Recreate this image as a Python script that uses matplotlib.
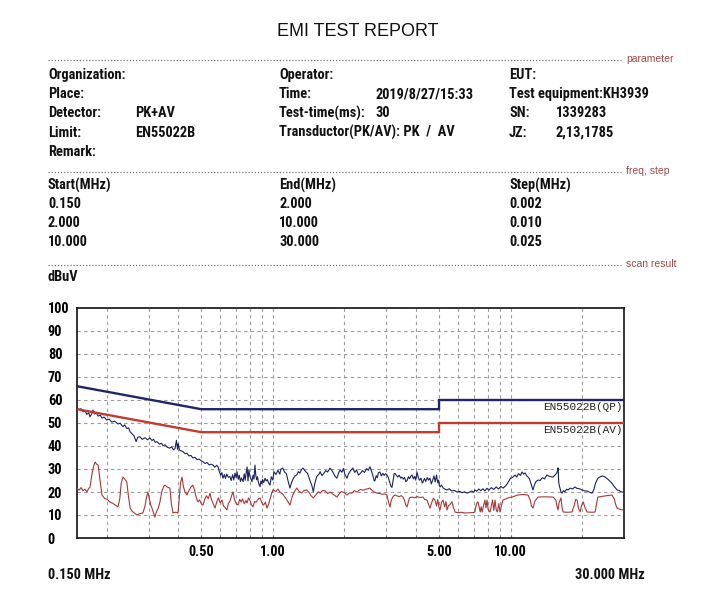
import matplotlib
matplotlib.use('Agg')
from matplotlib import pyplot as plt
from matplotlib import font_manager
from matplotlib.ticker import FixedLocator, NullFormatter

# header fields
row_left = ['Organization:', 'Place:', 'Detector:', 'Limit:', 'Remark:']
row_left_val = ['', '', 'PK+AV', 'EN55022B', '']
row_mid = ['Operator:', 'Time:', 'Test-time(ms):', 'Transductor(PK/AV): PK  /  AV', '']
row_mid_val = ['', '2019/8/27/15:33', '30', '', '']
row_right = ['EUT:', 'Test equipment:KH3939', 'SN:', 'JZ:', '']
row_right_val = ['', '', '1339283', '2,13,1785', '']

freq_start = ['0.150', '2.000', '10.000']
freq_end = ['2.000', '10.000', '30.000']
freq_step = ['0.002', '0.010', '0.025']

# limit lines (MHz, dBuV)
qp_f = [0.15, 0.5, 5.0, 5.0, 30.0]
qp_db = [66, 56, 56, 60, 60]
av_f = [0.15, 0.5, 5.0, 5.0, 30.0]
av_db = [56, 46, 46, 50, 50]

# peak trace
pk_f = [0.150, 0.153, 0.156, 0.159, 0.162, 0.165, 0.168, 0.170, 0.173, 0.175,
        0.178, 0.181, 0.184, 0.188, 0.191, 0.195, 0.200, 0.205, 0.210, 0.216,
        0.223, 0.228, 0.234, 0.238, 0.243, 0.247, 0.251, 0.255, 0.260, 0.266,
        0.270, 0.276, 0.282, 0.290, 0.297, 0.304, 0.310, 0.315, 0.320, 0.326,
        0.333, 0.340, 0.345, 0.352, 0.360, 0.369, 0.375, 0.382, 0.388, 0.393,
        0.397, 0.400, 0.405, 0.412, 0.419, 0.428, 0.435, 0.443, 0.452, 0.461,
        0.470, 0.480, 0.490, 0.500, 0.508, 0.518, 0.528, 0.540, 0.550, 0.560,
        0.570, 0.580, 0.588, 0.595, 0.603, 0.610, 0.617, 0.625, 0.632, 0.640,
        0.650, 0.660, 0.668, 0.677, 0.685, 0.693, 0.700, 0.707, 0.715, 0.722,
        0.730, 0.738, 0.749, 0.758, 0.765, 0.772, 0.779, 0.786, 0.793, 0.800,
        0.808, 0.817, 0.825, 0.833, 0.841, 0.848, 0.855, 0.862, 0.870, 0.877,
        0.883, 0.890, 0.898, 0.905, 0.915, 0.927, 0.937, 0.948, 0.960, 0.973,
        0.985, 1.00, 1.01, 1.03, 1.05, 1.07, 1.08, 1.10, 1.12, 1.14,
        1.16, 1.18, 1.20, 1.22, 1.24, 1.26, 1.28, 1.30, 1.32, 1.34,
        1.37, 1.40, 1.43, 1.46, 1.48, 1.50, 1.53, 1.56, 1.58, 1.61,
        1.64, 1.67, 1.70, 1.74, 1.77, 1.80, 1.83, 1.86, 1.89, 1.92,
        1.95, 1.98, 2.01, 2.05, 2.08, 2.11, 2.14, 2.17, 2.21, 2.25,
        2.29, 2.33, 2.38, 2.43, 2.48, 2.52, 2.56, 2.60, 2.64, 2.67,
        2.69, 2.72, 2.75, 2.78, 2.82, 2.86, 2.90, 2.94, 2.98, 3.02,
        3.06, 3.10, 3.14, 3.17, 3.21, 3.24, 3.27, 3.31, 3.35, 3.40,
        3.45, 3.49, 3.54, 3.58, 3.63, 3.67, 3.72, 3.76, 3.81, 3.85,
        3.90, 3.95, 3.99, 4.04, 4.09, 4.14, 4.20, 4.25, 4.28, 4.34,
        4.40, 4.46, 4.52, 4.58, 4.64, 4.70, 4.76, 4.82, 4.88, 4.94,
        4.98, 5.02, 5.05, 5.12, 5.20, 5.30, 5.40, 5.52, 5.65, 5.80,
        5.95, 6.10, 6.25, 6.40, 6.56, 6.70, 6.85, 7.00, 7.08, 7.20,
        7.35, 7.50, 7.65, 7.80, 7.95, 8.10, 8.30, 8.50, 8.70, 8.90,
        9.10, 9.30, 9.50, 9.65, 9.80, 10.0, 10.2, 10.44, 10.6, 10.8,
        11.0, 11.17, 11.35, 11.5, 11.7, 11.84, 12.0, 12.15, 12.3, 12.42,
        12.6, 12.8, 13.05, 13.3, 13.6, 13.9, 14.2, 14.5, 14.8, 15.09,
        15.4, 15.6, 15.75, 15.84, 15.95, 16.1, 16.3, 16.45, 16.7, 16.9,
        17.2, 17.46, 17.8, 18.2, 18.68, 19.0, 19.5, 19.98, 20.5, 21.0,
        21.5, 22.0, 22.4, 22.8, 23.3, 23.8, 24.4, 24.96, 25.5, 26.0,
        26.7, 27.3, 28.05, 28.6, 29.0, 29.4, 30.0]
pk_db = [56.5, 55.8, 56.2, 54.9, 55.3, 53.8, 54.4, 52.7, 54.0, 55.6,
         53.9, 54.3, 53.0, 53.4, 52.1, 52.6, 51.3, 51.7, 50.4, 50.8,
         49.6, 49.9, 48.4, 49.2, 47.6, 47.9, 46.2, 45.4, 44.6, 41.9,
         43.8, 44.0, 42.9, 43.6, 42.7, 43.5, 42.4, 42.9, 41.6, 41.9,
         40.8, 41.2, 40.1, 40.5, 39.4, 39.1, 39.6, 38.3, 39.0, 42.5,
         38.6, 41.0, 38.2, 37.9, 37.5, 36.6, 36.9, 35.7, 35.9, 34.8,
         35.1, 34.1, 34.3, 33.5, 33.2, 32.4, 32.8, 31.8, 32.1, 31.7,
         30.8, 31.6, 31.0, 29.0, 27.3, 28.4, 26.0, 27.6, 25.9, 27.8,
         26.4, 26.7, 25.0, 27.5, 25.2, 28.2, 26.3, 28.8, 25.5, 27.3,
         24.6, 26.1, 24.5, 27.9, 25.1, 28.3, 30.9, 24.8, 29.7, 27.0,
         25.8, 24.5, 27.3, 25.6, 31.7, 27.1, 25.3, 26.6, 24.0, 23.1,
         22.3, 24.7, 23.6, 25.4, 24.1, 26.0, 24.8, 25.4, 23.9, 23.0,
         26.6, 25.2, 28.8, 27.6, 29.4, 27.8, 29.9, 30.4, 28.7, 27.9,
         24.6, 21.7, 24.3, 25.9, 27.0, 27.4, 28.9, 28.2, 29.8, 30.4,
         29.0, 28.1, 25.2, 22.7, 20.1, 23.5, 26.8, 27.6, 28.8, 27.1,
         28.2, 29.3, 28.7, 30.4, 29.4, 28.1, 26.7, 26.0, 28.3, 29.5,
         28.6, 30.2, 27.6, 26.0, 27.8, 28.9, 29.7, 30.4, 28.5, 29.6,
         27.4, 28.0, 29.3, 28.5, 30.2, 29.4, 31.0, 29.1, 26.8, 24.8,
         25.0, 27.1, 26.2, 28.4, 28.7, 27.0, 28.1, 27.2, 28.0, 27.4,
         26.3, 24.2, 22.5, 22.0, 25.6, 28.0, 28.0, 27.2, 26.5, 27.3,
         26.0, 26.5, 25.6, 26.3, 24.5, 25.0, 26.7, 25.8, 26.9, 27.4,
         25.7, 26.8, 25.2, 28.7, 26.4, 25.1, 26.0, 23.9, 24.3, 25.9,
         24.6, 26.3, 25.2, 26.0, 23.5, 25.1, 27.0, 24.4, 27.4, 24.0,
         25.2, 22.8, 22.2, 23.0, 21.8, 21.2, 20.9, 21.4, 20.5, 20.7,
         20.0, 20.3, 19.7, 20.1, 19.5, 19.9, 20.4, 19.9, 20.9, 20.3,
         21.3, 20.6, 21.4, 20.5, 21.6, 20.8, 21.9, 21.1, 22.2, 21.3,
         22.4, 21.7, 22.5, 23.4, 24.5, 26.0, 26.4, 27.4, 26.5, 28.0,
         27.2, 28.7, 27.8, 28.3, 27.0, 26.5, 25.8, 24.0, 22.2, 20.9,
         23.1, 24.6, 25.2, 25.0, 26.2, 25.7, 27.4, 26.9, 26.6, 26.5,
         27.5, 28.1, 29.0, 30.5, 24.0, 22.0, 20.0, 19.5, 20.6, 20.1,
         21.2, 20.9, 21.7, 21.3, 22.2, 21.6, 21.4, 20.9, 20.5, 20.4,
         19.9, 19.5, 21.0, 24.0, 26.0, 26.6, 27.0, 26.5, 25.8, 25.0,
         23.8, 22.4, 20.9, 20.7, 20.2, 20.0, 19.8]

# average trace
avg_f = [0.150, 0.153, 0.156, 0.159, 0.162, 0.165, 0.168, 0.170, 0.172, 0.174,
         0.177, 0.179, 0.181, 0.184, 0.187, 0.191, 0.196, 0.201, 0.206, 0.212,
         0.218, 0.223, 0.227, 0.230, 0.234, 0.238, 0.243, 0.247, 0.251, 0.256,
         0.262, 0.268, 0.275, 0.284, 0.290, 0.294, 0.298, 0.302, 0.306, 0.310,
         0.315, 0.319, 0.324, 0.330, 0.335, 0.341, 0.347, 0.352, 0.360, 0.369,
         0.374, 0.380, 0.390, 0.399, 0.404, 0.409, 0.415, 0.420, 0.426, 0.435,
         0.443, 0.452, 0.461, 0.468, 0.476, 0.484, 0.492, 0.500, 0.508, 0.517,
         0.526, 0.535, 0.544, 0.552, 0.562, 0.571, 0.580, 0.590, 0.600, 0.611,
         0.620, 0.630, 0.641, 0.650, 0.660, 0.670, 0.680, 0.690, 0.700, 0.714,
         0.725, 0.735, 0.745, 0.758, 0.770, 0.778, 0.790, 0.800, 0.812, 0.825,
         0.838, 0.850, 0.865, 0.883, 0.900, 0.915, 0.930, 0.945, 0.960, 0.975,
         0.990, 1.00, 1.03, 1.05, 1.07, 1.10, 1.12, 1.15, 1.18, 1.21,
         1.24, 1.26, 1.29, 1.32, 1.35, 1.39, 1.42, 1.45, 1.48, 1.52,
         1.55, 1.58, 1.62, 1.66, 1.70, 1.74, 1.80, 1.86, 1.90, 1.94,
         1.97, 2.01, 2.05, 2.10, 2.15, 2.20, 2.26, 2.33, 2.40, 2.48,
         2.56, 2.62, 2.68, 2.74, 2.82, 2.90, 2.96, 3.02, 3.06, 3.11,
         3.15, 3.20, 3.27, 3.33, 3.40, 3.47, 3.53, 3.58, 3.63, 3.67,
         3.72, 3.76, 3.85, 3.95, 4.05, 4.15, 4.28, 4.35, 4.45, 4.52,
         4.58, 4.65, 4.73, 4.81, 4.88, 4.94, 5.00, 5.05, 5.12, 5.20,
         5.28, 5.35, 5.40, 5.48, 5.55, 5.67, 5.75, 5.84, 6.0, 6.2,
         6.4, 6.56, 6.8, 7.0, 7.08, 7.15, 7.22, 7.29, 7.38, 7.45,
         7.52, 7.59, 7.70, 7.80, 7.88, 7.96, 8.05, 8.19, 8.30, 8.40,
         8.50, 8.60, 8.70, 8.80, 8.92, 9.03, 9.15, 9.29, 9.50, 9.75,
         10.2, 10.74, 11.3, 11.84, 12.1, 12.25, 12.42, 12.65, 13.05, 14.0,
         15.09, 15.5, 15.7, 15.84, 16.0, 16.3, 16.45, 16.63, 17.3, 18.13,
         18.5, 18.8, 19.04, 19.3, 19.6, 19.9, 20.2, 20.6, 20.97, 22.0,
         22.7, 23.0, 23.3, 25.0, 26.7, 27.3, 27.7, 28.05, 29.0, 29.7,
         30.0]
avg_db = [21.7, 20.8, 21.9, 20.6, 21.2, 20.0, 21.5, 22.0, 25.5, 28.7,
          31.9, 33.0, 32.2, 31.7, 26.0, 18.7, 17.2, 16.8, 15.7, 15.1,
          14.2, 13.5, 17.0, 23.5, 26.5, 25.7, 24.3, 18.0, 13.0, 11.6,
          10.8, 10.0, 10.6, 10.9, 14.0, 17.6, 20.0, 17.3, 14.5, 13.0,
          10.9, 9.1, 11.4, 13.2, 15.7, 20.1, 22.4, 23.0, 22.1, 21.7,
          15.0, 10.9, 11.2, 10.9, 17.5, 24.1, 26.5, 22.6, 20.3, 18.7,
          20.6, 22.1, 23.0, 21.0, 17.6, 15.7, 16.6, 14.9, 14.3, 16.8,
          18.4, 17.1, 19.5, 16.7, 14.8, 13.0, 15.5, 17.5, 15.3, 16.5,
          14.0, 13.1, 12.2, 15.1, 16.0, 18.3, 20.0, 16.6, 15.1, 14.3,
          16.8, 15.6, 17.0, 14.9, 16.3, 15.2, 17.4, 16.5, 14.6, 13.5,
          15.9, 15.5, 16.8, 17.4, 15.2, 14.3, 15.6, 13.0, 14.8, 17.2,
          19.6, 20.9, 20.2, 21.3, 20.0, 19.1, 18.0, 16.2, 14.3, 18.5,
          20.6, 21.7, 20.3, 19.5, 20.6, 20.9, 19.8, 18.3, 17.4, 18.9,
          20.1, 19.5, 20.7, 20.5, 19.3, 20.0, 18.9, 17.8, 19.1, 20.2,
          20.0, 19.4, 18.7, 19.6, 19.5, 20.6, 20.0, 21.1, 20.8, 21.3,
          21.7, 20.6, 19.9, 19.5, 19.3, 19.0, 19.2, 18.7, 16.0, 13.5,
          16.4, 18.0, 18.7, 18.3, 18.0, 18.4, 17.8, 16.2, 14.1, 13.5,
          16.0, 17.5, 17.8, 17.5, 18.0, 17.6, 17.8, 16.8, 16.5, 14.6,
          13.0, 15.1, 17.3, 16.5, 14.0, 16.7, 13.2, 12.2, 15.4, 16.5,
          13.6, 15.8, 12.2, 14.0, 14.5, 15.7, 13.3, 11.3, 11.0, 11.2,
          10.9, 10.9, 11.0, 11.1, 11.3, 13.8, 15.3, 15.7, 13.4, 11.3,
          13.6, 11.3, 14.2, 16.5, 13.1, 16.5, 12.4, 11.3, 13.9, 16.5,
          12.0, 16.5, 12.3, 11.3, 15.0, 11.3, 14.1, 16.5, 16.9, 17.4,
          17.9, 18.7, 18.9, 18.7, 16.5, 13.8, 13.0, 16.0, 17.8, 17.9,
          17.8, 16.5, 13.5, 12.2, 15.5, 17.4, 13.5, 11.3, 11.2, 11.3,
          14.0, 16.8, 16.5, 13.0, 11.3, 14.2, 15.7, 13.0, 11.3, 11.2,
          11.3, 15.0, 17.8, 18.3, 18.7, 17.0, 14.5, 13.0, 12.4, 12.2,
          12.2]

y_ticks = [0, 10, 20, 30, 40, 50, 60, 70, 80, 90, 100]
x_major = [0.5, 1.0, 5.0, 10.0]
x_major_labels = ['0.50', '1.00', '5.00', '10.00']
x_grid = [0.2, 0.3, 0.4, 0.5, 0.6, 0.7, 0.8, 0.9, 1, 2, 3, 4, 5, 6, 7, 8, 9, 10, 20]

# the report uses a narrow font; pick one if it is installed
installed = font_manager.fontManager.ttflist
names = set(f.name for f in installed)
stretch = 'normal'
size = 10.4
if 'Liberation Sans Narrow' in names:
    font = ['Liberation Sans Narrow', 'DejaVu Sans']
elif 'Roboto Condensed' in names:
    font = ['Roboto Condensed', 'DejaVu Sans']
elif any(f.name == 'DejaVu Sans' and f.stretch == 'condensed' for f in installed):
    font = ['DejaVu Sans']
    stretch = 'condensed'
    size = 9.4
else:
    font = ['Lato', 'DejaVu Sans']
    size = 9.4

W, H = 720, 590
txt_kw = dict(family=font, fontsize=size, fontweight='bold', fontstretch=stretch,
              color='#111111', va='center')

fig = plt.figure(figsize=(7.2, 5.9), dpi=100)


def fx(px):
    return px / W


def fy(py):
    return 1 - py / H


def sep_line(py, label):
    fig.add_artist(plt.Line2D([fx(48), fx(621)], [fy(py), fy(py)], transform=fig.transFigure,
                              color='#777777', lw=0.9, ls=(0, (1, 1.5))))
    fig.text(fx(626), fy(py - 1), label, family=['Liberation Sans', 'DejaVu Sans'],
             fontsize=7.5, color='#a04848', va='center', ha='left')


fig.text(fx(358), fy(31), 'EMI TEST REPORT', family=['Liberation Sans', 'DejaVu Sans'],
         fontsize=13, ha='center', va='center', color='#111111')

sep_line(60, 'parameter')
for i in range(5):
    py = 75 + i * 19.2
    fig.text(fx(48), fy(py), row_left[i], **txt_kw)
    fig.text(fx(135), fy(py), row_left_val[i], **txt_kw)
    fig.text(fx(279), fy(py), row_mid[i], **txt_kw)
    fig.text(fx(375), fy(py), row_mid_val[i], **txt_kw)
    fig.text(fx(509), fy(py), row_right[i], **txt_kw)
    fig.text(fx(556), fy(py), row_right_val[i], **txt_kw)

sep_line(172, 'freq, step')
fig.text(fx(48), fy(185), 'Start(MHz)', **txt_kw)
fig.text(fx(279), fy(185), 'End(MHz)', **txt_kw)
fig.text(fx(509), fy(185), 'Step(MHz)', **txt_kw)
for i in range(3):
    py = 204 + i * 19.2
    fig.text(fx(48), fy(py), freq_start[i], **txt_kw)
    fig.text(fx(279), fy(py), freq_end[i], **txt_kw)
    fig.text(fx(509), fy(py), freq_step[i], **txt_kw)

sep_line(265, 'scan result')
fig.text(fx(48), fy(277), 'dBuV', **txt_kw)

ax = fig.add_axes([fx(77), fy(538), fx(624 - 77), (538 - 308) / H])
ax.set_xscale('log')
ax.set_xlim(0.15, 30)
ax.set_ylim(0, 100)

for v in y_ticks[1:-1]:
    ax.axhline(v, color='#9a9a9a', lw=0.8, ls=(0, (3, 3)), zorder=1)
for f in x_grid:
    ax.axvline(f, color='#9a9a9a', lw=0.8, ls=(0, (3, 3)), zorder=1)

ax.plot(avg_f, avg_db, color='#a83838', lw=0.8, zorder=3)
ax.plot(pk_f, pk_db, color='#1c2260', lw=0.8, zorder=3)
ax.plot(av_f, av_db, color='#c23b2e', lw=1.7, solid_joinstyle='miter', zorder=4)
ax.plot(qp_f, qp_db, color='#1f2568', lw=1.7, solid_joinstyle='miter', zorder=4)

ax.text(29.5, 57.0, 'EN55022B(QP)', family=['Liberation Mono', 'DejaVu Sans Mono'],
        fontsize=8, ha='right', va='center', color='#222222', zorder=5)
ax.text(29.5, 47.0, 'EN55022B(AV)', family=['Liberation Mono', 'DejaVu Sans Mono'],
        fontsize=8, ha='right', va='center', color='#222222', zorder=5)

ax.set_yticks(y_ticks)
ax.set_yticklabels([str(v) for v in y_ticks])
for lab in ax.get_yticklabels():
    lab.set_family(font)
    lab.set_fontstretch(stretch)
    lab.set_fontweight('bold')
    lab.set_fontsize(size)
    lab.set_ha('left')
ax.tick_params(axis='y', length=0, pad=21)

ax.xaxis.set_major_locator(FixedLocator(x_major))
ax.xaxis.set_minor_locator(FixedLocator(x_grid))
ax.xaxis.set_minor_formatter(NullFormatter())
ax.set_xticklabels(x_major_labels)
for lab in ax.get_xticklabels():
    lab.set_family(font)
    lab.set_fontstretch(stretch)
    lab.set_fontweight('bold')
    lab.set_fontsize(size)
ax.tick_params(axis='x', which='both', direction='in', length=2.5, color='#777777', pad=5)

for s in ax.spines.values():
    s.set_linewidth(1.2)
    s.set_color('#111111')

fig.text(fx(48), fy(575), '0.150 MHz', **txt_kw)
fig.text(fx(645), fy(575), '30.000 MHz', ha='right', **txt_kw)

fig.savefig('out.png', dpi=100)
